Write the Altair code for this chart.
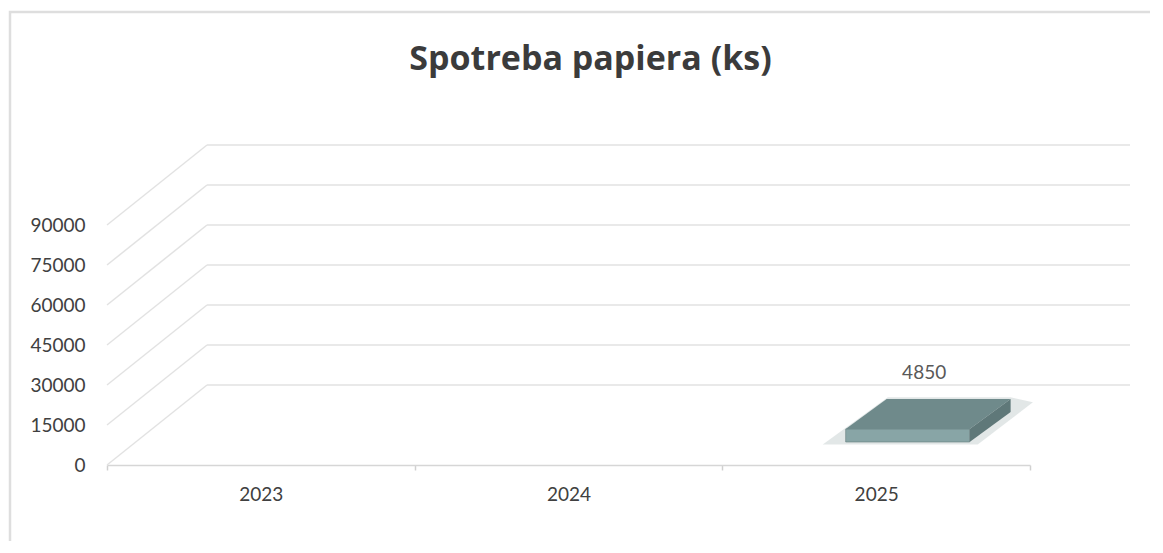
import altair as alt
import pandas as pd

years = ["2023", "2024", "2025"]
values = [None, None, 4850]
y_ticks = [0, 15000, 30000, 45000, 60000, 75000, 90000]
chart_title = "Spotreba papiera (ks)"

data = pd.DataFrame({"year": years, "value": values})
grid = pd.DataFrame({"v": y_ticks})
one = pd.DataFrame({"title": [chart_title]})

W, H = 923, 240
DX, DY = 100, -80
FONT = "Lato"
GRID_COLOR = "#e2e2e2"

yscale = alt.Scale(domain=[0, 90000], nice=False, zero=True)
xscale = alt.Scale(domain=years, paddingInner=0, paddingOuter=0)

yaxis = alt.Axis(values=y_ticks, format="d", title=None, domain=False, ticks=False,
                 grid=False, labelFont=FONT, labelFontSize=19, labelColor="#404040",
                 labelPadding=22, labelOverlap=False)
xaxis = alt.Axis(title=None, domain=True, domainColor="#d6d6d6", domainWidth=1.5,
                 ticks=True, tickBand="extent", tickSize=5, tickColor="#d0d0d0",
                 tickWidth=1.5, labelFont=FONT, labelFontSize=19, labelColor="#404040",
                 labelPadding=15, labelAngle=0, grid=False)

frame = alt.Chart(one).mark_rect(filled=False, stroke="#dedede", strokeWidth=2.5).encode(
    x=alt.value(-97), x2=alt.value(2000), y=alt.value(-213), y2=alt.value(1000)
)

title = alt.Chart(one).mark_text(font="Open Sans", fontSize=34, fontWeight="bold",
                                 color="#3b3b3b", align="center", baseline="alphabetic").encode(
    x=alt.value(W / 2 + 22), y=alt.value(-155), text="title:N"
)

back = alt.Chart(grid).mark_rule(color=GRID_COLOR, strokeWidth=1.5, xOffset=DX,
                                 x2Offset=DX, yOffset=DY).encode(
    x=alt.value(0), x2=alt.value("width"),
    y=alt.Y("v:Q", scale=yscale, axis=yaxis)
)

side = alt.Chart(grid).mark_rule(color=GRID_COLOR, strokeWidth=1.5, x2Offset=DX,
                                 y2Offset=DY).encode(
    x=alt.value(0), x2=alt.value(0),
    y=alt.Y("v:Q", scale=yscale, axis=yaxis), y2="v:Q"
)

bars = alt.Chart(data).transform_filter("isValid(datum.value)")

xenc = alt.X("year:N", scale=xscale, axis=xaxis, sort=years)
yenc = alt.Y("value:Q", scale=yscale, axis=yaxis)

BOX_SIZE = 124 * 124
BOX_DX = 31.5

shadow = bars.mark_point(
    shape="M -1.37 0.49 L 1.13 0.49 L 2.02 -0.19 L 1.66 -0.27 L -0.32 -0.27 Z",
    size=BOX_SIZE, filled=True, color="#9fb0b0", opacity=0.3, strokeWidth=0,
    xOffset=BOX_DX, yOffset=-38,
).encode(x=xenc, y=yenc)

front = bars.mark_bar(color="#88a5a6", width=124, xOffset=BOX_DX, yOffset=-23,
                      y2Offset=-23, stroke="#667d7e", strokeWidth=0.6).encode(
    x=xenc, y=yenc, y2=alt.datum(0)
)

top = bars.mark_point(
    shape="M -1 0.242 L 1 0.242 L 1.661 -0.242 L -0.339 -0.242 Z",
    size=BOX_SIZE, filled=True, color="#6f8a8b", opacity=1, strokeWidth=0,
    xOffset=BOX_DX, yOffset=-38,
).encode(x=xenc, y=yenc)

right_side = bars.mark_point(
    shape="M 1 0.242 L 1 0.452 L 1.661 -0.032 L 1.661 -0.242 Z",
    size=BOX_SIZE, filled=True, color="#5f7879", opacity=1, strokeWidth=0,
    xOffset=BOX_DX, yOffset=-38,
).encode(x=xenc, y=yenc)

label = bars.mark_text(font=FONT, fontSize=19, color="#595959", dx=48, dy=-79).encode(
    x=xenc, y=yenc, text=alt.Text("value:Q", format="d")
)

chart = alt.layer(frame, title, back, side, shadow, front, top, right_side, label).properties(
    width=W, height=H,
    background="white",
    autosize=alt.AutoSizeParams(type="none"),
    padding={"left": 99, "top": 217, "right": 120, "bottom": 76},
).configure_view(stroke=None).configure_axis(labelOverlap=False, grid=False)

chart.save("out.html", embed_options={"renderer": "svg", "actions": False})
